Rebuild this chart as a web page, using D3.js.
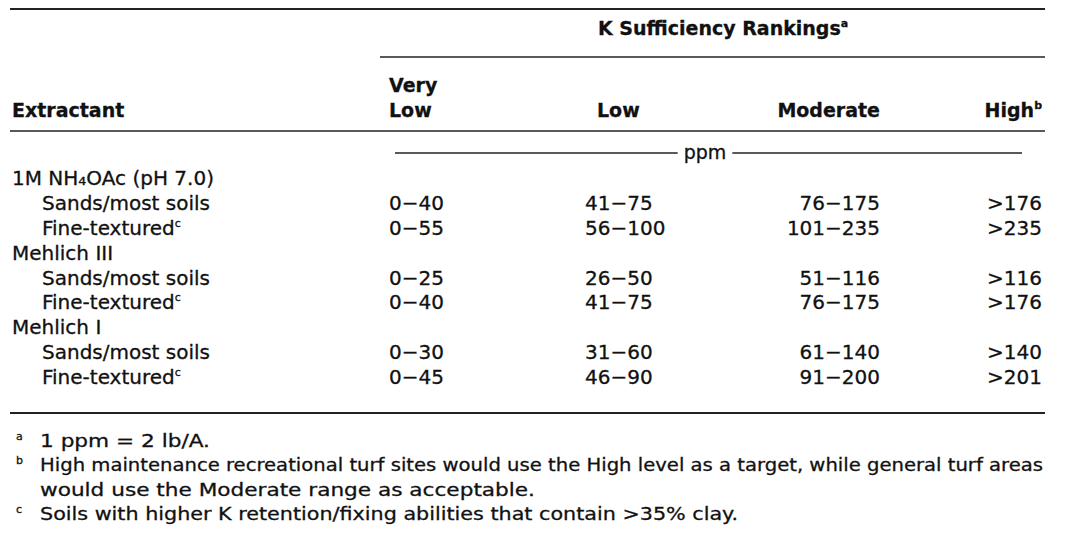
<!DOCTYPE html>
<html>
<head>
<meta charset="utf-8">
<script src="https://cdn.jsdelivr.net/npm/d3@7"></script>
<style>
  html, body { margin: 0; padding: 0; background: #fff; }
  svg { display: block; }
  text { font-family: "DejaVu Sans", "Open Sans", sans-serif; fill: #111; stroke: #111; stroke-width: 0.3px; }
</style>
</head>
<body>
<svg id="chart" width="1087" height="542"></svg>
<script>
// ---------- data ----------
const columns = ["Very Low", "Low", "Moderate", "High"];
const extractants = ["1M NH\u2084OAc (pH 7.0)", "Mehlich III", "Mehlich I"];
const soilGroups = ["Sands/most soils", "Fine-textured"];
const veryLow = ["0\u221240", "0\u221255", "0\u221225", "0\u221240", "0\u221230", "0\u221245"];
const low = ["41\u221275", "56\u2212100", "26\u221250", "41\u221275", "31\u221260", "46\u221290"];
const moderate = ["76\u2212175", "101\u2212235", "51\u2212116", "76\u2212175", "61\u2212140", "91\u2212200"];
const high = [">176", ">235", ">116", ">176", ">140", ">201"];
const title = "K Sufficiency Rankings";
const unitLabel = "ppm";
const stubHeader = "Extractant";
const footMarks = ["a", "b", "", "c"];
const footLines = [
  "1 ppm = 2 lb/A.",
  "High maintenance recreational turf sites would use the High level as a target, while general turf areas",
  "would use the Moderate range as acceptable.",
  "Soils with higher K retention/fixing abilities that contain >35% clay."
];

// ---------- build rows ----------
const valueCols = [veryLow, low, moderate, high];
const rows = [];
extractants.forEach((e, i) => {
  rows.push({ label: e, group: true, values: null });
  soilGroups.forEach((s, j) => {
    const k = i * soilGroups.length + j;
    rows.push({ label: s, group: false, sup: j === 1 ? "c" : null, values: valueCols.map(c => c[k]) });
  });
});

// ---------- layout ----------
const svg = d3.select("#chart");
const L = 10, R = 1045;
const y = d3.scalePoint().domain(d3.range(rows.length)).range([178, 377]);
const colX = d3.scaleOrdinal().domain(columns).range([389, 585, 880, 1042]);
const colAnchor = d3.scaleOrdinal().domain(columns).range(["start", "start", "end", "end"]);
const headX = d3.scaleOrdinal().domain(columns).range([389, 597, 880, 1042]);

const line = (x1, x2, yy, w) => svg.append("line")
  .attr("x1", x1).attr("x2", x2).attr("y1", yy).attr("y2", yy)
  .attr("stroke", "#222").attr("stroke-width", w);

// rules
line(L, R, 9, 2);
line(380, R, 57, 1.6);
line(L, R, 131, 1.7);
line(L, R, 413, 2);

// spanner title
const t = svg.append("text").attr("x", 598).attr("y", 35)
  .attr("font-size", 19).attr("font-weight", "bold").text(title);
t.append("tspan").attr("font-size", 11).attr("dy", -8).text("a");

// stub header
svg.append("text").attr("x", 12).attr("y", 117)
  .attr("font-size", 19).attr("font-weight", "bold").text(stubHeader);

// column headers
columns.forEach(c => {
  const words = c.split(" ");
  const g = svg.append("text").attr("x", headX(c)).attr("y", 117)
    .attr("font-size", 19).attr("font-weight", "bold").attr("text-anchor", colAnchor(c));
  if (words.length > 1) {
    svg.append("text").attr("x", headX(c)).attr("y", 92)
      .attr("font-size", 19).attr("font-weight", "bold").attr("text-anchor", colAnchor(c)).text(words[0]);
    g.text(words.slice(1).join(" "));
  } else {
    g.text(c);
  }
  if (c === "High") g.append("tspan").attr("font-size", 11).attr("dy", -8).text("b");
});

// ppm spanner
const ppm = svg.append("text").attr("x", 705).attr("y", 159).attr("font-size", 19)
  .attr("text-anchor", "middle").text(unitLabel);
const pb = ppm.node().getBBox();
line(395, pb.x - 6, 153, 1.3);
line(pb.x + pb.width + 6, 1022, 153, 1.3);

// body rows
rows.forEach((r, i) => {
  const yy = y(i) + 7;
  const lab = svg.append("text").attr("x", r.group ? 12 : 42).attr("y", yy)
    .attr("font-size", 20).text(r.label);
  if (r.sup) lab.append("tspan").attr("font-size", 11).attr("dy", -8).text(r.sup);
  if (r.values) {
    columns.forEach((c, ci) => {
      svg.append("text").attr("x", colX(c)).attr("y", yy)
        .attr("font-size", 20).attr("text-anchor", colAnchor(c)).text(r.values[ci]);
    });
  }
});

// footnotes
const footY = d3.scalePoint().domain(d3.range(footLines.length)).range([447, 520]);
const footW = [170, 1003, 495, 698];
footLines.forEach((f, i) => {
  if (footMarks[i]) {
    svg.append("text").attr("x", 16).attr("y", footY(i) - 7).attr("font-size", 11).text(footMarks[i]);
  }
  svg.append("text").attr("x", 40).attr("y", footY(i)).attr("font-size", 18)
    .attr("textLength", footW[i]).attr("lengthAdjust", "spacingAndGlyphs").text(f);
});
</script>
</body>
</html>
